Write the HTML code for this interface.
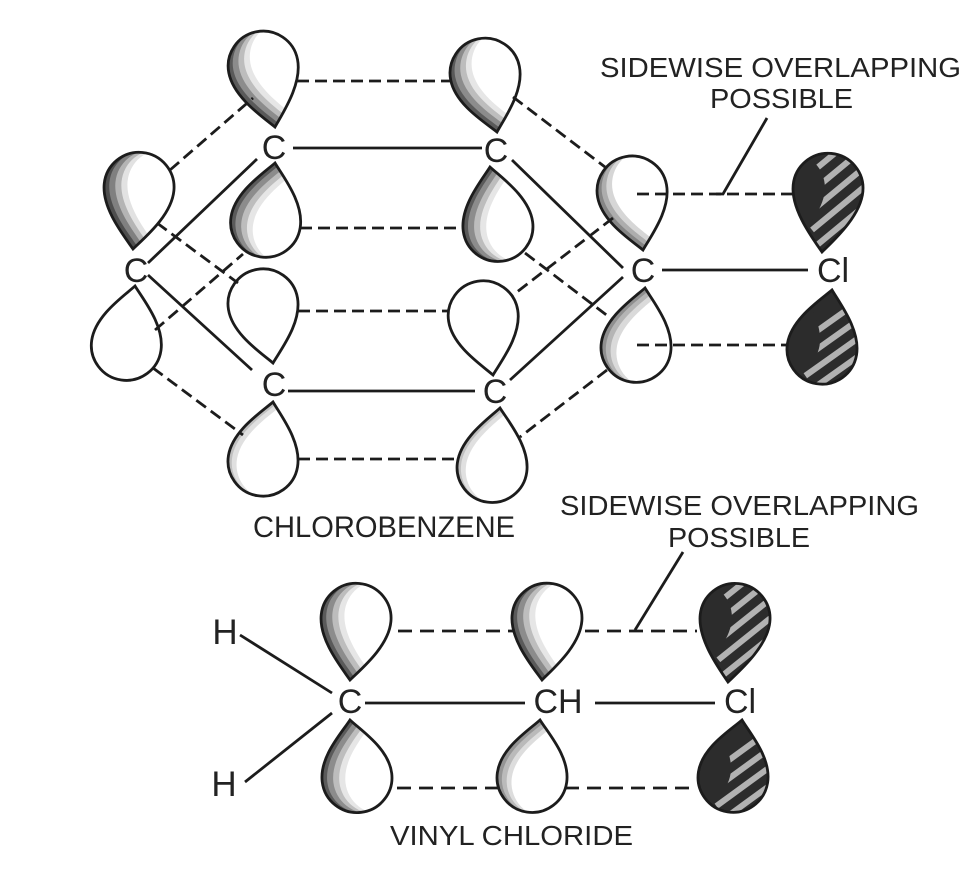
<!DOCTYPE html>
<html>
<head>
<meta charset="utf-8">
<style>
  html, body { margin:0; padding:0; background:#ffffff; }
  body { width:976px; height:872px; overflow:hidden; }
  svg { display:block; }
  text { font-family: "Liberation Sans", "DejaVu Sans", sans-serif; fill:#222222; }
</style>
</head>
<body>
<svg width="976" height="872" viewBox="0 0 976 872" xmlns="http://www.w3.org/2000/svg">
  <defs>
    <path id="p58" d="M0,0C-10,-12 -35,-33 -35,-58A35,35 0 0 1 35,-58C35,-33 10,-12 0,0Z"/>
    <path id="p60" d="M0,0C-10,-12 -35,-35 -35,-60A35,35 0 0 1 35,-60C35,-35 10,-12 0,0Z"/>
    <path id="p62" d="M0,0C-10,-12 -35,-37 -35,-62A35,35 0 0 1 35,-62C35,-37 10,-12 0,0Z"/>
    <path id="p64" d="M0,0C-10,-12 -35,-39 -35,-64A35,35 0 0 1 35,-64C35,-39 10,-12 0,0Z"/>
    <clipPath id="c58"><path d="M0,0C-10,-12 -35,-33 -35,-58A35,35 0 0 1 35,-58C35,-33 10,-12 0,0Z"/></clipPath>
    <clipPath id="c60"><path d="M0,0C-10,-12 -35,-35 -35,-60A35,35 0 0 1 35,-60C35,-35 10,-12 0,0Z"/></clipPath>
    <clipPath id="c62"><path d="M0,0C-10,-12 -35,-37 -35,-62A35,35 0 0 1 35,-62C35,-37 10,-12 0,0Z"/></clipPath>
    <clipPath id="c64"><path d="M0,0C-10,-12 -35,-39 -35,-64A35,35 0 0 1 35,-64C35,-39 10,-12 0,0Z"/></clipPath>
  </defs>

  <!-- ================= CHLOROBENZENE LOBES ================= -->
  <g transform="translate(275,127) rotate(-11)">
    <g clip-path="url(#c62)">
      <use href="#p62" fill="#5a5a5a"/>
      <use href="#p62" x="5" y="-2" fill="#8c8c8c"/>
      <use href="#p62" x="11" y="-3" fill="#bdbdbd"/>
      <use href="#p62" x="17" y="-4" fill="#e6e6e6"/>
      <use href="#p62" x="23" y="-5" fill="#ffffff"/>
    </g>
    <use href="#p62" fill="none" stroke="#1c1c1c" stroke-width="2.8"/>
  </g>
  <g transform="translate(275,163) rotate(189)">
    <g clip-path="url(#c60)">
      <use href="#p60" fill="#5a5a5a"/>
      <use href="#p60" x="-5" y="-1" fill="#8c8c8c"/>
      <use href="#p60" x="-11" y="-2" fill="#bdbdbd"/>
      <use href="#p60" x="-17" y="-3" fill="#e6e6e6"/>
      <use href="#p60" x="-23" y="-4" fill="#ffffff"/>
    </g>
    <use href="#p60" fill="none" stroke="#1c1c1c" stroke-width="2.8"/>
  </g>
  <g transform="translate(497,132) rotate(-11.5)">
    <g clip-path="url(#c60)">
      <use href="#p60" fill="#5a5a5a"/>
      <use href="#p60" x="5" y="-2" fill="#8c8c8c"/>
      <use href="#p60" x="11" y="-3" fill="#bdbdbd"/>
      <use href="#p60" x="17" y="-4" fill="#e6e6e6"/>
      <use href="#p60" x="23" y="-5" fill="#ffffff"/>
    </g>
    <use href="#p60" fill="none" stroke="#1c1c1c" stroke-width="2.8"/>
  </g>
  <g transform="translate(490,167) rotate(172.4)">
    <g clip-path="url(#c60)">
      <use href="#p60" fill="#5a5a5a"/>
      <use href="#p60" x="-5" y="-1" fill="#8c8c8c"/>
      <use href="#p60" x="-11" y="-2" fill="#bdbdbd"/>
      <use href="#p60" x="-17" y="-3" fill="#e6e6e6"/>
      <use href="#p60" x="-23" y="-4" fill="#ffffff"/>
    </g>
    <use href="#p60" fill="none" stroke="#1c1c1c" stroke-width="2.8"/>
  </g>
  <g transform="translate(133,249) rotate(5.6)">
    <g clip-path="url(#c62)">
      <use href="#p62" fill="#4e4e4e"/>
      <use href="#p62" x="5" y="-2" fill="#808080"/>
      <use href="#p62" x="11" y="-3" fill="#b4b4b4"/>
      <use href="#p62" x="17" y="-4" fill="#e2e2e2"/>
      <use href="#p62" x="23" y="-5" fill="#ffffff"/>
    </g>
    <use href="#p62" fill="none" stroke="#1c1c1c" stroke-width="2.8"/>
  </g>
  <g transform="translate(135,286) rotate(188.3)">
    <use href="#p60" fill="#ffffff" stroke="#1c1c1c" stroke-width="2.8"/>
  </g>
  <g transform="translate(273,363) rotate(-9.6)">
    <use href="#p60" fill="#ffffff" stroke="#1c1c1c" stroke-width="2.8"/>
  </g>
  <g transform="translate(273,402) rotate(189.6)">
    <g clip-path="url(#c60)">
      <use href="#p60" fill="#c0c0c0"/>
      <use href="#p60" x="-4" y="-1" fill="#e0e0e0"/>
      <use href="#p60" x="-9" y="-2" fill="#ffffff"/>
    </g>
    <use href="#p60" fill="none" stroke="#1c1c1c" stroke-width="2.8"/>
  </g>
  <g transform="translate(493,375) rotate(-9.4)">
    <use href="#p60" fill="#ffffff" stroke="#1c1c1c" stroke-width="2.8"/>
  </g>
  <g transform="translate(500,408) rotate(187.6)">
    <g clip-path="url(#c60)">
      <use href="#p60" fill="#c0c0c0"/>
      <use href="#p60" x="-4" y="-1" fill="#e0e0e0"/>
      <use href="#p60" x="-9" y="-2" fill="#ffffff"/>
    </g>
    <use href="#p60" fill="none" stroke="#1c1c1c" stroke-width="2.8"/>
  </g>
  <g transform="translate(643,250) rotate(-10.5)">
    <g clip-path="url(#c60)">
      <use href="#p60" fill="#858585"/>
      <use href="#p60" x="5" y="-2" fill="#adadad"/>
      <use href="#p60" x="10" y="-3" fill="#d6d6d6"/>
      <use href="#p60" x="16" y="-4" fill="#ffffff"/>
    </g>
    <use href="#p60" fill="none" stroke="#1c1c1c" stroke-width="2.8"/>
  </g>
  <g transform="translate(645,288) rotate(188.6)">
    <g clip-path="url(#c60)">
      <use href="#p60" fill="#8f8f8f"/>
      <use href="#p60" x="-5" y="-1" fill="#b5b5b5"/>
      <use href="#p60" x="-10" y="-2" fill="#dadada"/>
      <use href="#p60" x="-16" y="-3" fill="#ffffff"/>
    </g>
    <use href="#p60" fill="none" stroke="#1c1c1c" stroke-width="2.8"/>
  </g>
  <!-- Cl upper (benzene) -->
  <g transform="translate(822,252) rotate(5.4)">
    <g clip-path="url(#c64)">
      <use href="#p64" fill="#2c2c2c"/>
      <g stroke="#b2b2b2" stroke-width="6">
        <line x1="-12" y1="0" x2="50" y2="-62"/>
        <line x1="-12" y1="-21" x2="50" y2="-83"/>
        <line x1="-12" y1="-42" x2="50" y2="-104"/>
        <line x1="-12" y1="-63" x2="50" y2="-125"/>
        <line x1="-12" y1="-84" x2="50" y2="-146"/>
      </g>
      <use href="#p64" x="-38" y="3" fill="#2c2c2c"/>
    </g>
    <use href="#p64" fill="none" stroke="#1c1c1c" stroke-width="2.8"/>
  </g>
  <!-- Cl lower (benzene) -->
  <g transform="translate(832,290) rotate(189.6)">
    <g clip-path="url(#c60)">
      <use href="#p60" fill="#2c2c2c"/>
      <g stroke="#b2b2b2" stroke-width="6">
        <line x1="-50" y1="15" x2="12" y2="-47"/>
        <line x1="-50" y1="-6" x2="12" y2="-68"/>
        <line x1="-50" y1="-27" x2="12" y2="-89"/>
        <line x1="-50" y1="-48" x2="12" y2="-110"/>
        <line x1="-50" y1="-69" x2="12" y2="-131"/>
      </g>
      <use href="#p60" x="38" y="3" fill="#2c2c2c"/>
    </g>
    <use href="#p60" fill="none" stroke="#1c1c1c" stroke-width="2.8"/>
  </g>

  <!-- ================= CHLOROBENZENE BONDS ================= -->
  <g stroke="#1c1c1c" stroke-width="2.8" fill="none" stroke-linecap="butt">
    <line x1="293" y1="148" x2="482" y2="148"/>
    <line x1="288" y1="391" x2="475" y2="391"/>
    <line x1="662" y1="270" x2="808" y2="270"/>
    <line x1="257" y1="159" x2="148" y2="263"/>
    <line x1="148" y1="275" x2="252" y2="370"/>
    <line x1="512" y1="160" x2="623" y2="268"/>
    <line x1="623" y1="277" x2="510" y2="380"/>
    <polyline points="716,194 723,194 767,118"/>
  </g>
  <g stroke="#1c1c1c" stroke-width="2.8" fill="none" stroke-dasharray="12 6">
    <line x1="297" y1="81" x2="450" y2="81"/>
    <line x1="300" y1="228" x2="463" y2="228"/>
    <line x1="298" y1="311" x2="448" y2="311"/>
    <line x1="298" y1="459" x2="458" y2="459"/>
    <line x1="637" y1="194" x2="793" y2="194"/>
    <line x1="637" y1="345" x2="788" y2="345"/>
    <line x1="170" y1="170" x2="253" y2="98"/>
    <line x1="157" y1="223" x2="238" y2="283"/>
    <line x1="155" y1="330" x2="243" y2="254"/>
    <line x1="153" y1="368" x2="243" y2="435"/>
    <line x1="513" y1="97" x2="605" y2="167"/>
    <line x1="525" y1="253" x2="613" y2="320"/>
    <line x1="613" y1="218" x2="513" y2="295"/>
    <line x1="607" y1="370" x2="520" y2="437"/>
  </g>

  <g font-size="34" text-anchor="middle">
    <text x="274" y="159">C</text>
    <text x="496" y="162">C</text>
    <text x="136" y="282">C</text>
    <text x="274" y="396">C</text>
    <text x="495" y="403">C</text>
    <text x="643" y="282">C</text>
    <text x="833" y="282">Cl</text>
  </g>

  <text x="600" y="77" font-size="28" textLength="361" lengthAdjust="spacingAndGlyphs">SIDEWISE OVERLAPPING</text>
  <text x="710" y="108" font-size="28" textLength="143" lengthAdjust="spacingAndGlyphs">POSSIBLE</text>
  <text x="253" y="537" font-size="30" textLength="262" lengthAdjust="spacingAndGlyphs">CHLOROBENZENE</text>

  <!-- ================= VINYL CHLORIDE ================= -->
  <g transform="translate(350,680) rotate(5.6)">
    <g clip-path="url(#c62)">
      <use href="#p62" fill="#5a5a5a"/>
      <use href="#p62" x="5" y="-2" fill="#8c8c8c"/>
      <use href="#p62" x="11" y="-3" fill="#bdbdbd"/>
      <use href="#p62" x="17" y="-4" fill="#e6e6e6"/>
      <use href="#p62" x="23" y="-5" fill="#ffffff"/>
    </g>
    <use href="#p62" fill="none" stroke="#1c1c1c" stroke-width="2.8"/>
  </g>
  <g transform="translate(350,720) rotate(173.1)">
    <g clip-path="url(#c58)">
      <use href="#p58" fill="#5a5a5a"/>
      <use href="#p58" x="-5" y="-1" fill="#8c8c8c"/>
      <use href="#p58" x="-11" y="-2" fill="#bdbdbd"/>
      <use href="#p58" x="-17" y="-3" fill="#e6e6e6"/>
      <use href="#p58" x="-23" y="-4" fill="#ffffff"/>
    </g>
    <use href="#p58" fill="none" stroke="#1c1c1c" stroke-width="2.8"/>
  </g>
  <g transform="translate(542,680) rotate(4.6)">
    <g clip-path="url(#c62)">
      <use href="#p62" fill="#5a5a5a"/>
      <use href="#p62" x="5" y="-2" fill="#8c8c8c"/>
      <use href="#p62" x="11" y="-3" fill="#bdbdbd"/>
      <use href="#p62" x="17" y="-4" fill="#e6e6e6"/>
      <use href="#p62" x="23" y="-5" fill="#ffffff"/>
    </g>
    <use href="#p62" fill="none" stroke="#1c1c1c" stroke-width="2.8"/>
  </g>
  <g transform="translate(540,720) rotate(187.9)">
    <g clip-path="url(#c58)">
      <use href="#p58" fill="#959595"/>
      <use href="#p58" x="-5" y="-1" fill="#bababa"/>
      <use href="#p58" x="-10" y="-2" fill="#dddddd"/>
      <use href="#p58" x="-15" y="-3" fill="#ffffff"/>
    </g>
    <use href="#p58" fill="none" stroke="#1c1c1c" stroke-width="2.8"/>
  </g>
  <!-- Cl upper (vinyl) -->
  <g transform="translate(728,682) rotate(6.3)">
    <g clip-path="url(#c64)">
      <use href="#p64" fill="#2c2c2c"/>
      <g stroke="#b2b2b2" stroke-width="6">
        <line x1="-12" y1="0" x2="50" y2="-62"/>
        <line x1="-12" y1="-21" x2="50" y2="-83"/>
        <line x1="-12" y1="-42" x2="50" y2="-104"/>
        <line x1="-12" y1="-63" x2="50" y2="-125"/>
        <line x1="-12" y1="-84" x2="50" y2="-146"/>
      </g>
      <use href="#p64" x="-38" y="3" fill="#2c2c2c"/>
    </g>
    <use href="#p64" fill="none" stroke="#1c1c1c" stroke-width="2.8"/>
  </g>
  <!-- Cl lower (vinyl) -->
  <g transform="translate(742,720) rotate(188.9)">
    <g clip-path="url(#c58)">
      <use href="#p58" fill="#2c2c2c"/>
      <g stroke="#b2b2b2" stroke-width="6">
        <line x1="-50" y1="15" x2="12" y2="-47"/>
        <line x1="-50" y1="-6" x2="12" y2="-68"/>
        <line x1="-50" y1="-27" x2="12" y2="-89"/>
        <line x1="-50" y1="-48" x2="12" y2="-110"/>
        <line x1="-50" y1="-69" x2="12" y2="-131"/>
      </g>
      <use href="#p58" x="38" y="3" fill="#2c2c2c"/>
    </g>
    <use href="#p58" fill="none" stroke="#1c1c1c" stroke-width="2.8"/>
  </g>

  <g stroke="#1c1c1c" stroke-width="2.8" fill="none">
    <line x1="240" y1="635" x2="332" y2="693"/>
    <line x1="332" y1="713" x2="245" y2="782"/>
    <line x1="365" y1="703" x2="525" y2="703"/>
    <line x1="595" y1="703" x2="715" y2="703"/>
    <line x1="635" y1="630" x2="683" y2="552"/>
  </g>
  <g stroke="#1c1c1c" stroke-width="2.8" fill="none" stroke-dasharray="14 8">
    <line x1="398" y1="631" x2="515" y2="631"/>
    <line x1="585" y1="631" x2="697" y2="631"/>
    <line x1="397" y1="788" x2="498" y2="788"/>
    <line x1="565" y1="788" x2="695" y2="788"/>
  </g>

  <g font-size="34" text-anchor="middle">
    <text x="225" y="644" font-size="35">H</text>
    <text x="224" y="796" font-size="35">H</text>
    <text x="350" y="713">C</text>
    <text x="558" y="713">CH</text>
    <text x="740" y="713">Cl</text>
  </g>

  <text x="560" y="515" font-size="28" textLength="359" lengthAdjust="spacingAndGlyphs">SIDEWISE OVERLAPPING</text>
  <text x="668" y="547" font-size="28" textLength="142" lengthAdjust="spacingAndGlyphs">POSSIBLE</text>
  <text x="390" y="845" font-size="28" textLength="243" lengthAdjust="spacingAndGlyphs">VINYL CHLORIDE</text>
</svg>
</body>
</html>
